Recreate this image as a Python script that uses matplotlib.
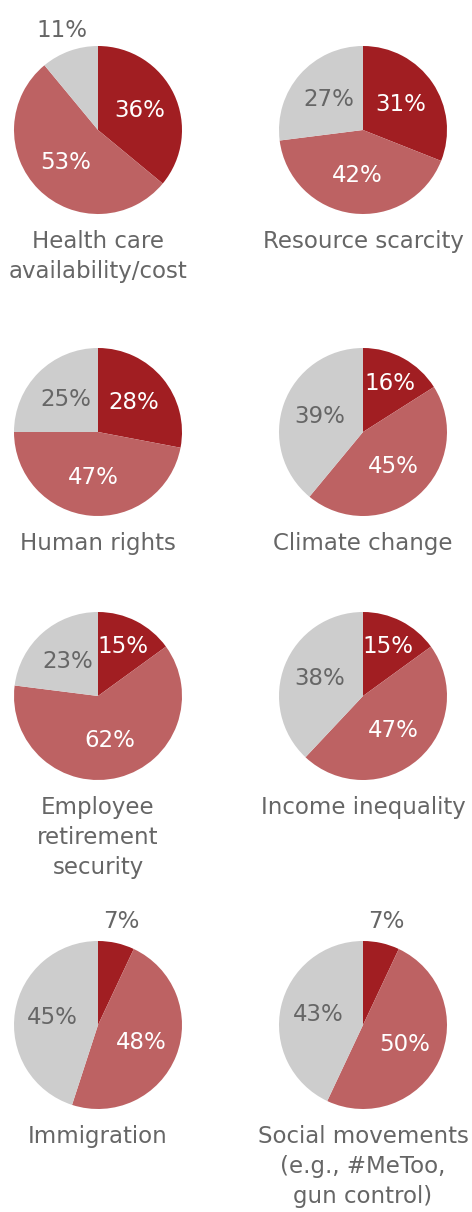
import numpy as np
import matplotlib.pyplot as plt

# share of respondents: dark red / medium red / gray
topics = ['Health care\navailability/cost', 'Resource scarcity',
          'Human rights', 'Climate change',
          'Employee\nretirement\nsecurity', 'Income inequality',
          'Immigration', 'Social movements\n(e.g., #MeToo,\ngun control)']
dark = [36, 31, 28, 16, 15, 15, 7, 7]
mid = [53, 42, 47, 45, 62, 47, 48, 50]
gray = [11, 27, 25, 39, 23, 38, 45, 43]

colors = ['#a11e22', '#bd6263', '#cdcdcd']
txt_gray = '#666666'

W, H = 472, 1212
col_x = [98, 363]
row_y = [130, 432, 696, 1025]
R = 84  # pie radius in px

fig = plt.figure(figsize=(W / 100, H / 100), dpi=100)

for i, topic in enumerate(topics):
    cx = col_x[i % 2]
    cy = row_y[i // 2]
    ax = fig.add_axes([(cx - R) / W, (H - cy - R) / H, 2 * R / W, 2 * R / H])
    vals = [dark[i], mid[i], gray[i]]
    ax.pie(vals, colors=colors, startangle=90, counterclock=False,
           radius=1, wedgeprops=dict(linewidth=0))
    ax.set_xlim(-1, 1)
    ax.set_ylim(-1, 1)
    ax.set_aspect('equal')
    ax.axis('off')

    # percentage labels
    start = 90
    for j, v in enumerate(vals):
        ang = np.deg2rad(start - v * 3.6 / 2)
        start -= v * 3.6
        if v < 12:
            d = 1.26
            c = txt_gray
        elif v < 20:
            d = 0.66
            c = 'white' if j < 2 else txt_gray
        else:
            d = 0.55
            c = 'white' if j < 2 else txt_gray
        ax.text(d * np.cos(ang), d * np.sin(ang), f'{v}%', ha='center',
                va='center', fontsize=16.5, color=c, clip_on=False)

    ax.text(0, -1.19, topic, ha='center', va='top', fontsize=16.5,
            color=txt_gray, linespacing=1.4, clip_on=False)

fig.savefig('out.png', dpi=100, facecolor='white')
